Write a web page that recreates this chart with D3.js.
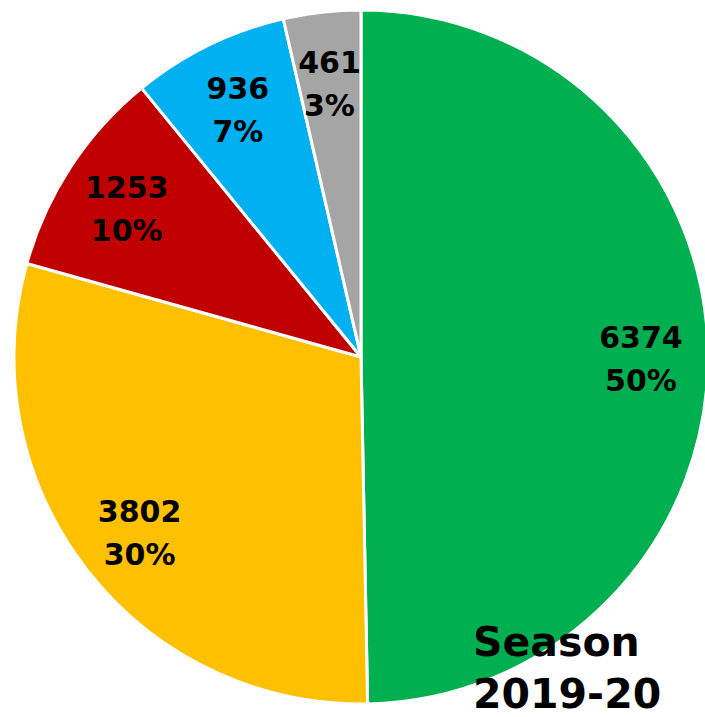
<!DOCTYPE html>
<html>
<head>
<meta charset="utf-8">
<script src="https://cdn.jsdelivr.net/npm/d3@7"></script>
<style>
  body { margin: 0; background: #fff; }
  text { font-family: "DejaVu Sans", sans-serif; font-weight: bold; }
</style>
</head>
<body>
<div id="chart"></div>
<script>
var svgWidth = 705;
var svgHeight = 717;

// slice data, clockwise from 12 o'clock
var categories = ["green", "yellow", "red", "blue", "gray"];
var values = [6374, 3802, 1253, 936, 461];
var pctLabels = ["50%", "30%", "10%", "7%", "3%"];
var colors = ["#00B050", "#FFC000", "#C00000", "#00B0F0", "#A5A5A5"];
var titleLines = ["Season", "2019-20"];

var cx = 361, cy = 357, radius = 347;

var svg = d3.select("#chart")
  .append("svg")
  .attr("width", svgWidth)
  .attr("height", svgHeight);

var pieGroup = svg.append("g")
  .attr("transform", `translate(${cx}, ${cy})`);

var pie = d3.pie()
  .sort(null)
  .value(d => d);

var arc = d3.arc()
  .innerRadius(0)
  .outerRadius(radius);

var labelArc = d3.arc()
  .innerRadius(280)
  .outerRadius(280);

var arcs = pie(values);

pieGroup.selectAll("path")
  .data(arcs)
  .enter()
  .append("path")
  .attr("d", arc)
  .attr("fill", (d, i) => colors[i])
  .attr("stroke", "#fff")
  .attr("stroke-width", 3)
  .attr("stroke-linejoin", "round");

var labels = pieGroup.selectAll("text.lbl")
  .data(arcs)
  .enter()
  .append("text")
  .classed("lbl", true)
  .attr("transform", d => `translate(${labelArc.centroid(d)})`)
  .attr("text-anchor", "middle")
  .style("font-size", "30px")
  .attr("fill", "#000");

labels.append("tspan")
  .attr("x", 0)
  .attr("y", -6)
  .text(d => d.data);

labels.append("tspan")
  .attr("x", 0)
  .attr("y", 37)
  .text((d, i) => pctLabels[i]);

svg.append("g")
  .selectAll("text")
  .data(titleLines)
  .enter()
  .append("text")
  .attr("x", 473)
  .attr("y", (d, i) => 656 + i * 52)
  .style("font-size", "41px")
  .attr("fill", "#000")
  .text(d => d);
</script>
</body>
</html>
